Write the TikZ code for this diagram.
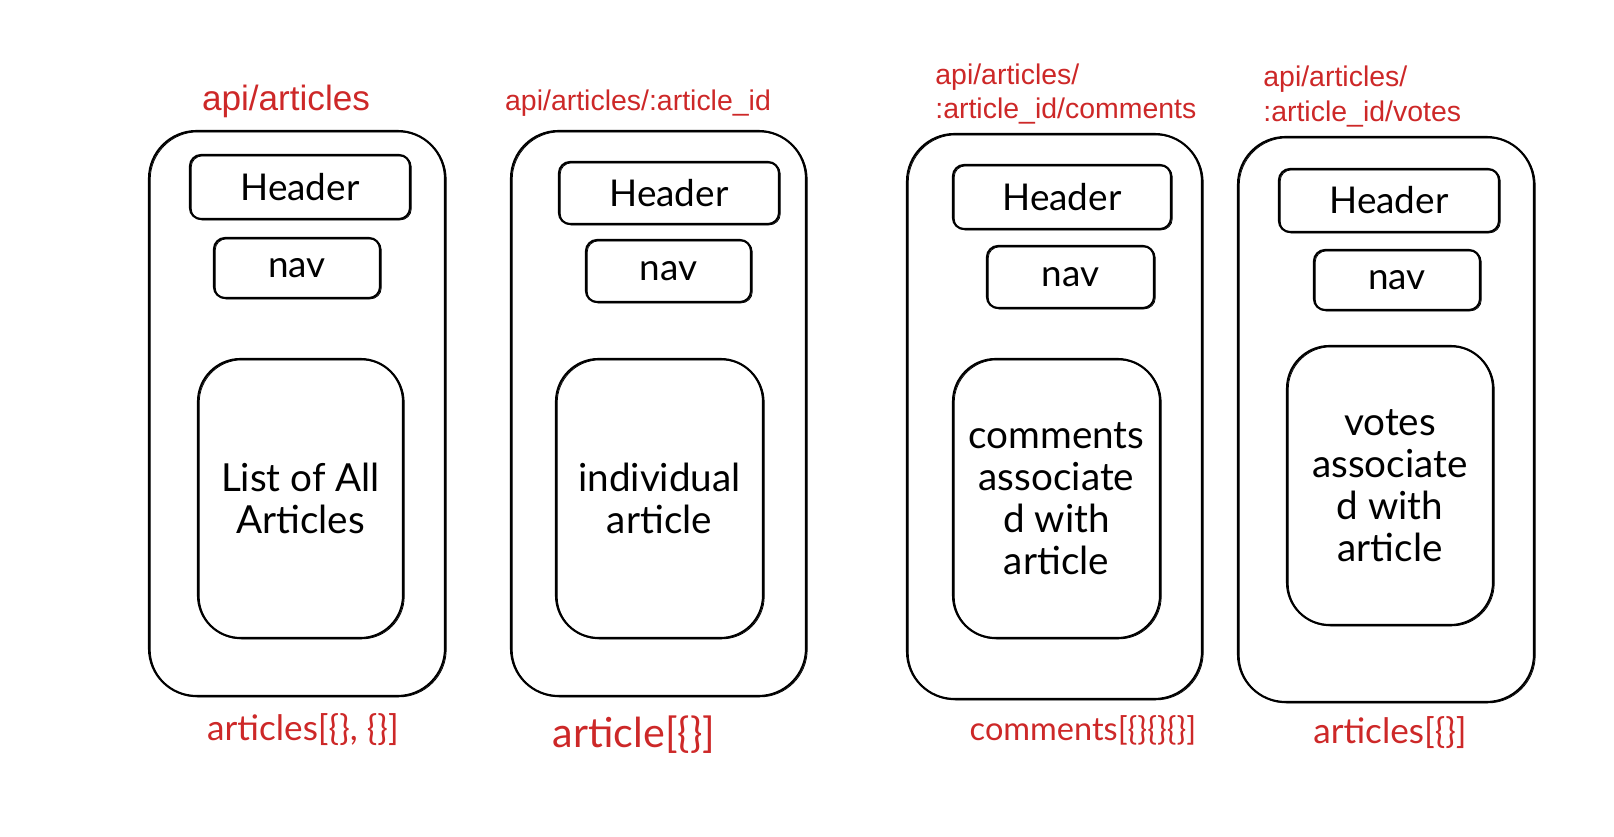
\documentclass[tikz,border=0pt]{standalone}
\usepackage{fontspec}
\setmainfont{Lato}
\newfontfamily\arialf{Liberation Sans}
\definecolor{exred}{RGB}{205,40,40}
\tikzset{
  sz/.style 2 args={minimum width=#1*0.02cm, minimum height=#2*0.02cm},
  sk/.style={draw=black, line width=1.2pt, inner sep=0pt,
    preaction={draw=black, line width=0.45pt, transform canvas={xshift=0.7pt,yshift=-0.5pt}}},
  phone/.style={sk, rounded corners=0.95cm},
  bar/.style={sk, rounded corners=0.22cm, font=\fontsize{21}{24}\selectfont},
  content/.style={sk, rounded corners=0.85cm, align=center, font=\fontsize{22}{24}\selectfont},
  route/.style={text=exred, font=\arialf\fontsize{16.2}{19.4}\selectfont, align=left, inner sep=0pt},
  resp/.style={text=exred, font=\fontsize{20}{22}\selectfont, inner sep=0pt},
}
\begin{document}
\begin{tikzpicture}[x=0.02cm, y=-0.02cm]
\useasboundingbox (0,0) rectangle (1614,837);
% column 1
\node[phone, sz={296}{565}] (p1) at (297,413.5) {};
\node[bar, sz={220}{64}] (h1) at (300,187) {Header};
\node[bar, sz={166}{60}] (n1) at (297,268) {nav};
\node[content, sz={205}{279}] (c1) at (300.5,498.5) {List of All\\Articles};
\node[route, font=\arialf\fontsize{20}{24}\selectfont] (r1) at (286,101) {api/articles};
\node[resp] (b1) at (303,730) {articles[\{\}, \{\}]};
% column 2
\node[phone, sz={295}{565}] (p2) at (658.5,413.5) {};
\node[bar, sz={220}{62}] (h2) at (669,193) {Header};
\node[bar, sz={165}{62}] (n2) at (668.5,271) {nav};
\node[content, sz={207}{279}] (c2) at (659.5,498.5) {individual\\article};
\node[route] (r2) at (638,103) {api/articles/:article\_id};
\node[resp, font=\fontsize{23.5}{26}\selectfont] (b2) at (634,735) {article[\{\}]};
% column 3
\node[phone, sz={295}{565}] (p3) at (1054.5,416.5) {};
\node[bar, sz={218}{64}] (h3) at (1062,197) {Header};
\node[bar, sz={167}{62}] (n3) at (1070.5,277) {nav};
\node[content, sz={207}{279}] (c3) at (1056.5,498.5) {comments\\associate\\d with\\article};
\node[route, anchor=west] (r3) at (935,94) {api/articles/\\:article\_id/comments};
\node[resp, font=\fontsize{18.5}{20}\selectfont] (b3) at (1083,730) {comments[\{\}\{\}\{\}]};
% column 4
\node[phone, sz={296}{565}] (p4) at (1386,419.5) {};
\node[bar, sz={220}{63}] (h4) at (1389,200.5) {Header};
\node[bar, sz={166}{60}] (n4) at (1397,280) {nav};
\node[content, sz={206}{279}] (c4) at (1390,485.5) {votes\\associate\\d with\\article};
\node[route, anchor=west] (r4) at (1263,96.5) {api/articles/\\:article\_id/votes};
\node[resp] (b4) at (1390,733) {articles[\{\}]};
\end{tikzpicture}
\end{document}
